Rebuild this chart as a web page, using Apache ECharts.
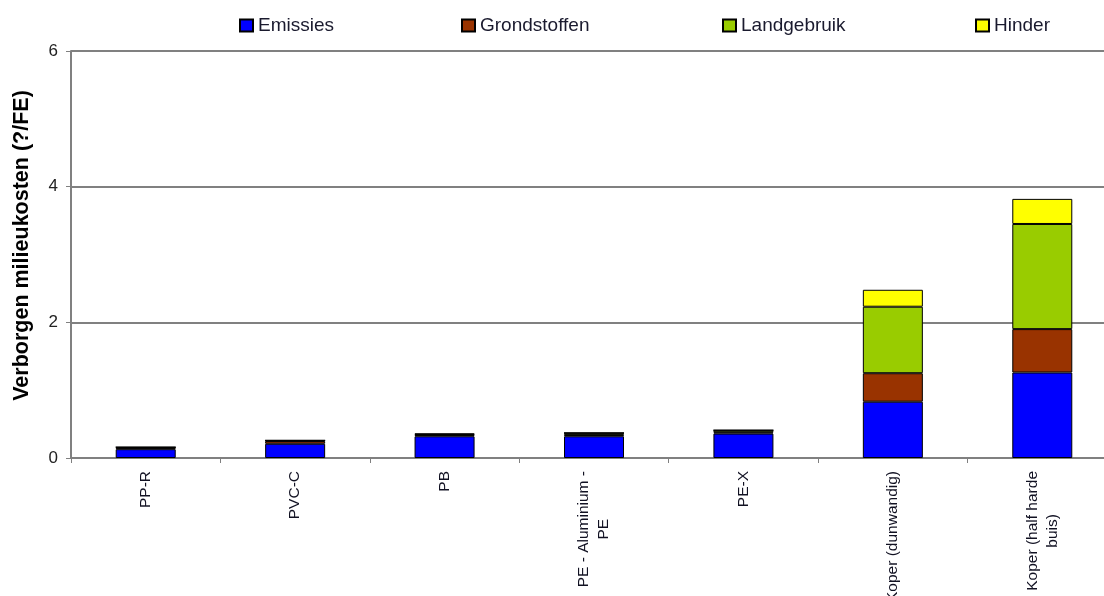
<!DOCTYPE html>
<html>
<head>
<meta charset="utf-8">
<script src="https://cdn.jsdelivr.net/npm/echarts@6/dist/echarts.min.js"></script>
<style>
  html, body { margin: 0; padding: 0; background: #fff; }
  #container { width: 1104px; height: 596px; }
</style>
</head>
<body>
<div id="container"></div>
<script>
const categories = [
    'PP-R',
    'PVC-C',
    'PB',
    'PE - Aluminium -\nPE',
    'PE-X',
    'Koper (dunwandig)',
    'Koper (half harde\nbuis)'
]
const emissies = [0.13, 0.21, 0.32, 0.32, 0.36, 0.83, 1.26]
const grondstoffen = [0.02, 0.04, 0.02, 0.02, 0.02, 0.42, 0.64]
const landgebruik = [0.01, 0.01, 0.01, 0.03, 0.03, 0.98, 1.55]
const hinder = [0.0, 0.0, 0.01, 0.0, 0.0, 0.25, 0.37]
const yTicks = [0, 2, 4, 6]

const font = "'Liberation Sans', Arial, sans-serif"
const myChart = echarts.init(document.getElementById('container'))

const names = ['Emissies', 'Grondstoffen', 'Landgebruik', 'Hinder']
const colors = ['#0000ff', '#993300', '#99cc00', '#ffff00']
const values = [emissies, grondstoffen, landgebruik, hinder]
const legendLeft = [234, 456, 717, 970]

const option = {
    backgroundColor: '#ffffff',
    animation: false,
    legend: names.map((n, i) => ({
        data: [n],
        left: legendLeft[i],
        top: 11,
        icon: 'rect',
        itemWidth: 13,
        itemHeight: 12,
        itemGap: 0,
        textStyle: { fontFamily: font, fontSize: 19, color: '#1a1a2e' }
    })),
    grid: {
        left: 71,
        top: 51,
        width: 1046,
        height: 407,
        outerBoundsMode: 'none'
    },
    xAxis: {
        type: 'category',
        data: categories,
        axisLine: { lineStyle: { color: '#808080', width: 2 } },
        axisTick: { show: true, length: 5, lineStyle: { color: '#808080', width: 1 } },
        axisLabel: {
            rotate: 90,
            margin: 13,
            interval: 0,
            fontFamily: font,
            fontSize: 15.5,
            color: '#111122',
            lineHeight: 20,
            formatter: (v) => v.split('\n').map(s => '{c|' + s + '}').join('\n'),
            rich: {
                c: { align: 'center', fontFamily: font, fontSize: 15.5, color: '#111122', lineHeight: 20 }
            }
        }
    },
    yAxis: {
        type: 'value',
        min: yTicks[0],
        max: yTicks[yTicks.length - 1],
        interval: 2,
        name: 'Verborgen milieukosten (?/FE)',
        nameLocation: 'middle',
        nameGap: 38,
        nameTextStyle: {
            fontFamily: font,
            fontSize: 21.5,
            fontWeight: 'bold',
            color: '#000',
            padding: [0, 0, 0, 18]
        },
        axisLine: { show: true, lineStyle: { color: '#808080', width: 2 } },
        axisTick: { show: true, length: 5, lineStyle: { color: '#808080', width: 1 } },
        axisLabel: { fontFamily: font, fontSize: 17, color: '#222', margin: 13 },
        splitLine: { show: true, lineStyle: { color: '#808080', width: 2 } }
    },
    series: names.map((n, i) => ({
        name: n,
        type: 'bar',
        stack: 'total',
        barWidth: 60,
        itemStyle: { color: colors[i], borderColor: '#000', borderWidth: 1 },
        data: values[i]
    }))
}

myChart.setOption(option)
</script>
</body>
</html>
